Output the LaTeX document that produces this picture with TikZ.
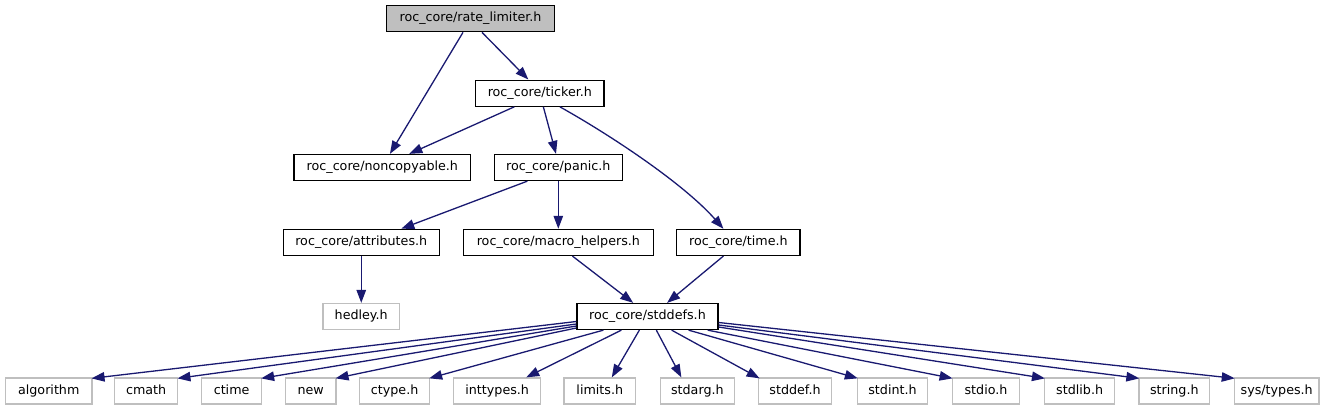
\documentclass[tikz,border=0pt]{standalone}
\usepackage{fontspec}
\setmainfont{DejaVu Sans}
\usetikzlibrary{arrows.meta,calc}
\definecolor{edgeblue}{HTML}{191970}
\definecolor{grayline}{HTML}{BFBFBF}
\begin{document}
\begin{tikzpicture}[x=1bp,y=-1bp,
  every node/.style={font=\fontsize{12.7bp}{15bp}\selectfont, inner sep=0pt,
    minimum height=26bp, text height=9.5bp, text depth=3bp},
  mainbox/.style={draw=black, fill=white, line width=1.3bp},
  rootbox/.style={draw=black, fill=grayline, line width=1.3bp},
  extbox/.style={draw=grayline, fill=white, line width=1.3bp},
  dep/.style={draw=edgeblue, line width=1.3bp, -{Triangle[length=13bp,width=9.5bp]}}]
\useasboundingbox (0,0) rectangle (1336,411);

% level 1-5
\node[rootbox, minimum width=167.6bp] (rl) at (470.5,18.7) {roc\_core/rate\_limiter.h};
\node[mainbox, minimum width=128.3bp] (tk) at (539.85,93.15) {roc\_core/ticker.h};
\node[mainbox, minimum width=176.7bp] (nc) at (382.35,167.5) {roc\_core/noncopyable.h};
\node[mainbox, minimum width=128bp] (pn) at (558.3,167.5) {roc\_core/panic.h};
\node[mainbox, minimum width=156.1bp] (at) at (361.25,242.4) {roc\_core/attributes.h};
\node[mainbox, minimum width=189.7bp] (mh) at (558.4,242.4) {roc\_core/macro\_helpers.h};
\node[mainbox, minimum width=123.2bp] (tm) at (738.4,242.4) {roc\_core/time.h};
\node[extbox, minimum width=76.4bp] (hd) at (361.25,316.5) {hedley.h};
\node[mainbox, minimum width=141bp] (sd) at (647.5,316.5) {roc\_core/stddefs.h};

% bottom row
\node[extbox, minimum width=86.3bp] (alg) at (48.75,391) {algorithm};
\node[extbox, minimum width=63.3bp] (cm) at (146.15,391) {cmath};
\node[extbox, minimum width=59.8bp] (ct) at (231.6,391) {ctime};
\node[extbox, minimum width=50.4bp] (nw) at (310.7,391) {new};
\node[extbox, minimum width=69.7bp] (cy) at (394.65,391) {ctype.h};
\node[extbox, minimum width=86.8bp] (it) at (497.2,391) {inttypes.h};
\node[extbox, minimum width=71.4bp] (lm) at (599.8,391) {limits.h};
\node[extbox, minimum width=74.1bp] (sa) at (697.35,391) {stdarg.h};
\node[extbox, minimum width=73.5bp] (sdf) at (795,391) {stddef.h};
\node[extbox, minimum width=70bp] (si) at (892.5,391) {stdint.h};
\node[extbox, minimum width=67.5bp] (so) at (986,391) {stdio.h};
\node[extbox, minimum width=70.1bp] (sl) at (1079.65,391) {stdlib.h};
\node[extbox, minimum width=70.6bp] (st) at (1174.3,391) {string.h};
\node[extbox, minimum width=84.6bp] (sy) at (1276.7,391) {sys/types.h};

% upper edges
\draw[dep] ($(rl.south)+(-7.5,0)$) -- ($(nc.north)+(7.6,0)$);
\draw[dep] ($(rl.south)+(11.5,0)$) -- ($(tk.north)+(-11.5,0)$);
\draw[dep] ($(tk.south)+(-25.5,0)$) -- ($(nc.north)+(27,0)$);
\draw[dep] ($(tk.south)+(3.5,0)$) -- ($(pn.north)+(-2.3,0)$);
\draw[dep] ($(tk.south)+(20,0)$) .. controls (612,136) and (684,184) .. ($(tm.north)+(-15,0)$);
\draw[dep] ($(pn.south)+(-31,0)$) -- ($(at.north)+(40,0)$);
\draw[dep] (pn.south) -- (pn.south |- mh.north);
\draw[dep] (at.south) -- (hd.north);
\draw[dep] ($(mh.south)+(14,0)$) -- ($(sd.north)+(-14.3,0)$);
\draw[dep] ($(tm.south)+(-15,0)$) -- ($(sd.north)+(19.6,0)$);

% stddefs fan-out
\draw[dep] ($(sd.west)+(0,5)$) -- ($(alg.north east)+(-1,1)$);
\draw[dep] ($(sd.west)+(0,7.5)$) -- ($(cm.north east)+(-1,1)$);
\draw[dep] ($(sd.west)+(0,9.5)$) -- ($(ct.north east)+(-1,1)$);
\draw[dep] ($(sd.west)+(0,11.5)$) -- ($(nw.north east)+(-1,1)$);
\draw[dep] ($(sd.south west)+(27,0)$) -- ($(cy.north east)+(-1,1)$);
\draw[dep] ($(sd.south west)+(45,0)$) -- ($(it.north)+(29,0)$);
\draw[dep] ($(sd.south west)+(63,0)$) -- ($(lm.north)+(12,0)$);
\draw[dep] ($(sd.south west)+(80,0)$) -- ($(sa.north)+(-16,0)$);
\draw[dep] ($(sd.south east)+(-47,0)$) -- ($(sdf.north west)+(2,1)$);
\draw[dep] ($(sd.south east)+(-30,0)$) -- ($(si.north west)+(1,1)$);
\draw[dep] ($(sd.south east)+(-11,0)$) -- ($(so.north west)+(1,1)$);
\draw[dep] ($(sd.east)+(0,10.5)$) -- ($(sl.north west)+(1,1)$);
\draw[dep] ($(sd.east)+(0,8.5)$) -- ($(st.north west)+(1,1)$);
\draw[dep] ($(sd.east)+(0,6)$) -- ($(sy.north west)+(1,1)$);
\end{tikzpicture}
\end{document}
